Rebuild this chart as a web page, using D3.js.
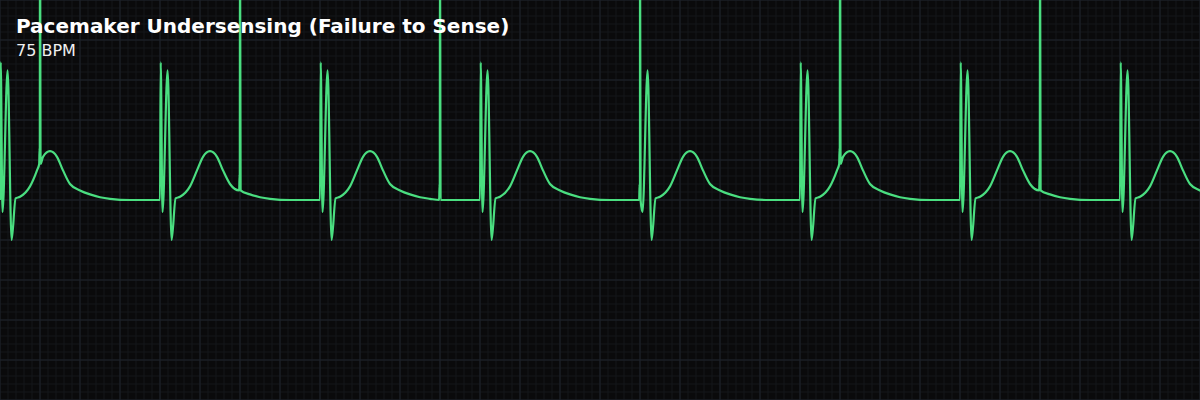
<!DOCTYPE html>
<html>
<head>
<meta charset="utf-8">
<script src="https://cdn.jsdelivr.net/npm/d3@7"></script>
<style>
  html, body { margin: 0; padding: 0; background: #0a0a0b; }
  svg { display: block; }
</style>
</head>
<body>
<div id="chart"></div>
<script>
// 75 BPM intrinsic rhythm (0.8 s apart), pacemaker firing every 1.0 s without sensing it
const beatTimes = [0, 0.8, 1.6, 2.4, 3.2, 4.0, 4.8, 5.6];   // seconds
const paceTimes = [0.2, 1.2, 2.2, 3.2, 4.2, 5.2];          // seconds
// level of the trace where each pacing spike sits (mV)
const paceBase = [0.45, 0.12, 0.0, 0.0, 0.45, 0.12];

// one intrinsic complex: offset (ms) and amplitude (mV)
const beatOffsets = [0, 3.5, 12.5, 38, 58, 78, 100, 150, 185, 215, 250, 285, 315, 350, 400, 450, 500, 550, 650];
const beatMv      = [0, 1.72, -0.15, 1.62, -0.5, 0.02, 0.04, 0.17, 0.37, 0.54, 0.61, 0.54, 0.37, 0.2, 0.12, 0.07, 0.035, 0.015, 0];

// pacing artifact shape: offset (ms) and height above its base (mV)
const spikeOffsets = [-4, -2, -1, 0, 3];
const spikeMv      = [0, 0.2, 0.05, 3.5, 0];

const title = "Pacemaker Undersensing (Failure to Sense)";
const subtitle = "75 BPM";

const w = 1200;
const h = 400;

const x = d3.scaleLinear().domain([0, 6]).range([0, w]);
const y = d3.scaleLinear().domain([-2.5, 2.5]).range([h, 0]);

const svg = d3.select("#chart")
    .append("svg")
    .attr("width", w)
    .attr("height", h);

svg.append("rect")
    .attr("width", w)
    .attr("height", h)
    .attr("fill", "#0a0a0b");

// ECG paper: small boxes 0.04 s / 0.1 mV, big boxes 0.2 s / 0.5 mV
const grid = svg.append("g");
const minorX = d3.range(0, 151).map(i => i * 0.04);
const minorY = d3.range(-25, 26).map(i => i * 0.1);
const majorX = d3.range(0, 31).map(i => i * 0.2);
const majorY = d3.range(-5, 6).map(i => i * 0.5);

function drawGrid(xs, ys, color) {
    grid.selectAll(null)
        .data(xs)
        .enter()
        .append("line")
        .attr("x1", d => x(d)).attr("x2", d => x(d))
        .attr("y1", 0).attr("y2", h)
        .attr("stroke", color)
        .attr("stroke-width", 1);
    grid.selectAll(null)
        .data(ys)
        .enter()
        .append("line")
        .attr("y1", d => y(d)).attr("y2", d => y(d))
        .attr("x1", 0).attr("x2", w)
        .attr("stroke", color)
        .attr("stroke-width", 1);
}
drawGrid(minorX, minorY, "#15171a");
drawGrid(majorX, majorY, "#1f232a");

// build the trace: beat complexes plus the pacing artifacts dropped on top
let points = [];
beatTimes.forEach(bt => {
    beatOffsets.forEach((o, i) => {
        const t = bt + o / 1000;
        // a spike landing on the complex hides the complex's first upstroke
        const hidden = paceTimes.some(p => Math.abs(p - t) < 0.005 && o > 0);
        if (!hidden) points.push([t, beatMv[i]]);
    });
});
paceTimes.forEach((pt, k) => {
    spikeOffsets.forEach((o, i) => {
        points.push([pt + o / 1000, paceBase[k] + spikeMv[i]]);
    });
});
points.sort((a, b) => a[0] - b[0]);

const line = d3.line()
    .x(d => x(d[0]))
    .y(d => y(d[1]))
    .curve(d3.curveMonotoneX);

svg.append("path")
    .datum(points)
    .attr("d", line)
    .attr("fill", "none")
    .attr("stroke", "#4ade80")
    .attr("stroke-width", 2.2)
    .attr("stroke-linejoin", "round");

svg.append("text")
    .attr("x", 16)
    .attr("y", 33)
    .attr("fill", "#ffffff")
    .attr("font-family", "DejaVu Sans, sans-serif")
    .attr("font-weight", "bold")
    .attr("font-size", 20)
    .text(title);

svg.append("text")
    .attr("x", 16)
    .attr("y", 56)
    .attr("fill", "#f0f0f0")
    .attr("font-family", "DejaVu Sans, sans-serif")
    .attr("font-size", 16)
    .text(subtitle);
</script>
</body>
</html>
